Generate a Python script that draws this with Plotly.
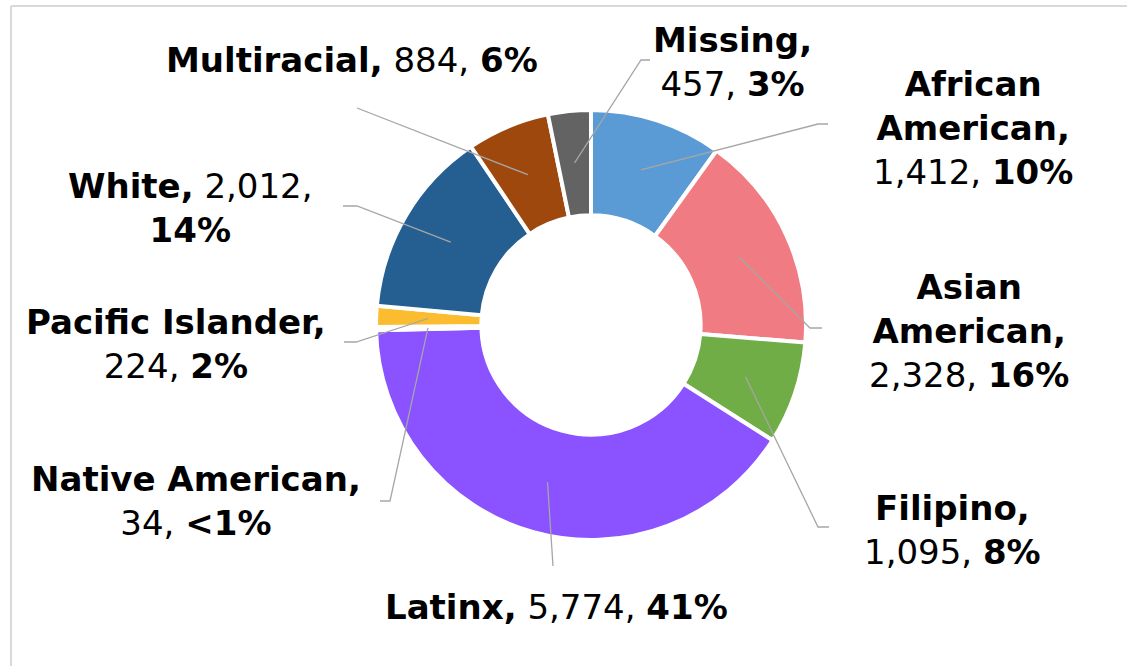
import math
import plotly.graph_objects as go

# ---------------- data ----------------
categories = ["African American", "Asian American", "Filipino", "Latinx",
              "Native American", "Pacific Islander", "White", "Multiracial", "Missing"]
counts = [1412, 2328, 1095, 5774, 34, 224, 2012, 884, 457]
colors = ["#5B9BD5", "#F07B82", "#70AD47", "#8B52FF",
          "#4472C4", "#FBBC30", "#255E91", "#9E480E", "#636363"]

# ---------------- layout (pixels) ----------------
W, H = 1127, 666
CX, CY, R = 591, 325, 215
HOLE = 0.51
ANCHOR_R = 163  # radius where leader lines start

label_style = ["stack", "stack", "two", "one", "two", "two", "white", "one", "two"]
label_pos = [(973, 128), (969, 331), (952, 530), (556, 607), (196, 501),
             (176, 344), (190, 208), (352, 60), (732, 62)]
leader_corner = [(818, 124), (810, 328), (818, 527), (553, 566), (390, 501),
                 (356, 342), (357, 206), (357, 108), (641, 60)]
leader_end = [(828, 124), (822, 328), (829, 527), (553, 566), (380, 501),
              (344, 342), (343, 206), (357, 108), (650, 60)]

FONT = "DejaVu Sans"
FONT_SIZE = 34

total = sum(counts)


def pct_text(v):
    p = v / total * 100
    return "&lt;1%" if p < 1 else f"{round(p):d}%"


def make_label(name, v, style):
    vs = f"{v:,}"
    ps = pct_text(v)
    if style == "one":
        return f"<b>{name},</b> {vs}, <b>{ps}</b>"
    if style == "two":
        return f"<b>{name},</b><br>{vs}, <b>{ps}</b>"
    if style == "stack":
        return f"<b>{name.replace(' ', '<br>')},</b><br>{vs}, <b>{ps}</b>"
    if style == "white":
        return f"<b>{name},</b> {vs},<br><b>{ps}</b>"
    return name


fig = go.Figure()

fig.add_trace(go.Pie(
    values=counts,
    labels=categories,
    marker=dict(colors=colors, line=dict(color="white", width=4)),
    hole=HOLE,
    sort=False,
    direction="clockwise",
    rotation=0,
    textinfo="none",
    hoverinfo="label+value+percent",
    domain=dict(x=[(CX - R) / W, (CX + R) / W], y=[1 - (CY + R) / H, 1 - (CY - R) / H]),
    showlegend=False,
))

shapes = []
annotations = []
cum = 0
for i, v in enumerate(counts):
    mid = (cum + v / 2) / total * 2 * math.pi
    cum += v
    ax = CX + ANCHOR_R * math.sin(mid)
    ay = CY - ANCHOR_R * math.cos(mid)
    cx, cy = leader_corner[i]
    ex, ey = leader_end[i]
    shapes.append(dict(
        type="path", xref="x", yref="y", layer="above",
        path=f"M {ax:.1f},{ay:.1f} L {cx},{cy} L {ex},{ey}",
        line=dict(color="#A6A6A6", width=1.3),
    ))
    lx, ly = label_pos[i]
    annotations.append(dict(
        x=lx, y=ly, xref="x", yref="y",
        text=make_label(categories[i], v, label_style[i]),
        showarrow=False, align="center", xanchor="center", yanchor="middle",
        font=dict(family=FONT, size=FONT_SIZE, color="black"),
    ))

shapes.append(dict(type="line", xref="x", yref="y", layer="below",
                   x0=11, y0=6, x1=W + 5, y1=6, line=dict(color="#D9D9D9", width=2)))
shapes.append(dict(type="line", xref="x", yref="y", layer="below",
                   x0=11, y0=6, x1=11, y1=H + 5, line=dict(color="#D9D9D9", width=2)))

fig.update_layout(
    width=W, height=H,
    margin=dict(l=0, r=0, t=0, b=0),
    paper_bgcolor="white", plot_bgcolor="rgba(0,0,0,0)",
    font=dict(family=FONT),
    xaxis=dict(range=[0, W], visible=False, domain=[0, 1], fixedrange=True),
    yaxis=dict(range=[H, 0], visible=False, domain=[0, 1], fixedrange=True),
    shapes=shapes,
    annotations=annotations,
    showlegend=False,
)

fig.write_html("out.html", config={"displayModeBar": False},
               post_script="document.body.style.margin='0px';")
